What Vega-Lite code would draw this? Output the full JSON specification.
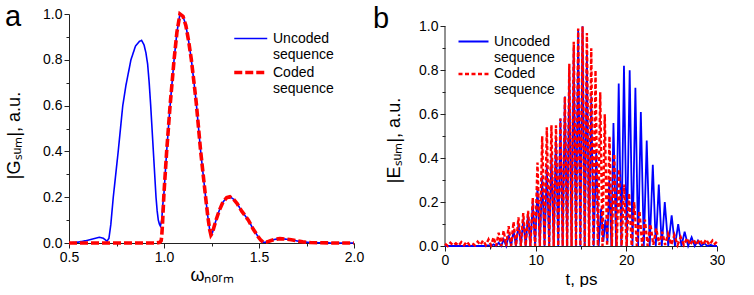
{
 "$schema": "https://vega.github.io/schema/vega-lite/v6.json",
 "background": "white",
 "padding": {"left": 5, "top": 3, "right": 0, "bottom": 0},
 "spacing": 9,
 "resolve": {"scale": {"color": "independent", "strokeDash": "independent", "strokeWidth": "independent"}, "legend": {"color": "independent", "strokeDash": "independent", "strokeWidth": "independent"}},
 "config": {
  "view": {"stroke": null},
  "font": "Liberation Sans",
  "axis": {"domainColor": "#222", "tickColor": "#222", "labelColor": "#000", "titleColor": "#000", "labelFontSize": 14, "titleFontWeight": "normal", "grid": false, "labelFont": "Liberation Sans", "titleFont": "Liberation Sans", "labelOverlap": false, "labelPadding": 2}
 },
 "hconcat": [
  {
   "width": 285, "height": 229,
   "data": {"values": [
    {"w":0.5,"g":0,"s":"U"},{"w":0.55,"g":0.004,"s":"U"},{"w":0.6,"g":0.012,"s":"U"},{"w":0.64,"g":0.021,"s":"U"},{"w":0.66,"g":0.025,"s":"U"},{"w":0.68,"g":0.021,"s":"U"},{"w":0.7,"g":0.008,"s":"U"},{"w":0.71,"g":0.02,"s":"U"},{"w":0.72,"g":0.08,"s":"U"},{"w":0.733,"g":0.2,"s":"U"},{"w":0.746,"g":0.3,"s":"U"},{"w":0.759,"g":0.4,"s":"U"},{"w":0.771,"g":0.5,"s":"U"},{"w":0.783,"g":0.6,"s":"U"},{"w":0.8,"g":0.69,"s":"U"},{"w":0.826,"g":0.8,"s":"U"},{"w":0.85,"g":0.86,"s":"U"},{"w":0.87,"g":0.88,"s":"U"},{"w":0.882,"g":0.885,"s":"U"},{"w":0.895,"g":0.865,"s":"U"},{"w":0.905,"g":0.83,"s":"U"},{"w":0.914,"g":0.78,"s":"U"},{"w":0.922,"g":0.7,"s":"U"},{"w":0.93,"g":0.6,"s":"U"},{"w":0.937,"g":0.5,"s":"U"},{"w":0.944,"g":0.4,"s":"U"},{"w":0.951,"g":0.3,"s":"U"},{"w":0.958,"g":0.2,"s":"U"},{"w":0.964,"g":0.14,"s":"U"},{"w":0.97,"g":0.1,"s":"U"},{"w":0.976,"g":0.082,"s":"U"},{"w":0.981,"g":0.074,"s":"U"},{"w":0.988,"g":0.1,"s":"U"},{"w":0.994,"g":0.17,"s":"U"},{"w":1.0,"g":0.22,"s":"U"},
    {"w":1.014,"g":0.4,"s":"U"},{"w":1.032,"g":0.6,"s":"U"},{"w":1.053,"g":0.8,"s":"U"},{"w":1.068,"g":0.92,"s":"U"},{"w":1.084,"g":1.0,"s":"U"},{"w":1.1,"g":0.99,"s":"U"},{"w":1.115,"g":0.95,"s":"U"},{"w":1.13,"g":0.88,"s":"U"},{"w":1.144,"g":0.8,"s":"U"},{"w":1.158,"g":0.7,"s":"U"},{"w":1.17,"g":0.61,"s":"U"},{"w":1.182,"g":0.5,"s":"U"},{"w":1.193,"g":0.4,"s":"U"},{"w":1.206,"g":0.3,"s":"U"},{"w":1.219,"g":0.2,"s":"U"},{"w":1.23,"g":0.12,"s":"U"},{"w":1.24,"g":0.06,"s":"U"},{"w":1.247,"g":0.035,"s":"U"},{"w":1.255,"g":0.045,"s":"U"},{"w":1.265,"g":0.075,"s":"U"},{"w":1.274,"g":0.1,"s":"U"},{"w":1.29,"g":0.14,"s":"U"},{"w":1.31,"g":0.178,"s":"U"},{"w":1.33,"g":0.198,"s":"U"},{"w":1.347,"g":0.202,"s":"U"},{"w":1.365,"g":0.192,"s":"U"},{"w":1.385,"g":0.172,"s":"U"},{"w":1.41,"g":0.138,"s":"U"},{"w":1.444,"g":0.1,"s":"U"},{"w":1.47,"g":0.06,"s":"U"},{"w":1.495,"g":0.028,"s":"U"},{"w":1.51,"g":0.012,"s":"U"},{"w":1.523,"g":0.003,"s":"U"},{"w":1.54,"g":0.004,"s":"U"},{"w":1.56,"g":0.01,"s":"U"},{"w":1.585,"g":0.016,"s":"U"},{"w":1.61,"g":0.019,"s":"U"},{"w":1.64,"g":0.017,"s":"U"},{"w":1.67,"g":0.014,"s":"U"},{"w":1.7,"g":0.009,"s":"U"},{"w":1.73,"g":0.005,"s":"U"},{"w":1.77,"g":0.002,"s":"U"},{"w":1.82,"g":0.001,"s":"U"},{"w":1.9,"g":0,"s":"U"},{"w":2.0,"g":0,"s":"U"},
    {"w":0.5,"g":0,"s":"C"},{"w":0.6,"g":0,"s":"C"},{"w":0.7,"g":0,"s":"C"},{"w":0.8,"g":0,"s":"C"},{"w":0.9,"g":0,"s":"C"},{"w":0.96,"g":0,"s":"C"},{"w":0.978,"g":0.003,"s":"C"},{"w":0.985,"g":0.01,"s":"C"},{"w":0.988,"g":0.03,"s":"C"},{"w":0.992,"g":0.08,"s":"C"},{"w":1.0,"g":0.22,"s":"C"},
    {"w":1.014,"g":0.4,"s":"C"},{"w":1.032,"g":0.6,"s":"C"},{"w":1.053,"g":0.8,"s":"C"},{"w":1.068,"g":0.92,"s":"C"},{"w":1.084,"g":1.0,"s":"C"},{"w":1.1,"g":0.99,"s":"C"},{"w":1.115,"g":0.95,"s":"C"},{"w":1.13,"g":0.88,"s":"C"},{"w":1.144,"g":0.8,"s":"C"},{"w":1.158,"g":0.7,"s":"C"},{"w":1.17,"g":0.61,"s":"C"},{"w":1.182,"g":0.5,"s":"C"},{"w":1.193,"g":0.4,"s":"C"},{"w":1.206,"g":0.3,"s":"C"},{"w":1.219,"g":0.2,"s":"C"},{"w":1.23,"g":0.12,"s":"C"},{"w":1.24,"g":0.06,"s":"C"},{"w":1.247,"g":0.035,"s":"C"},{"w":1.255,"g":0.045,"s":"C"},{"w":1.265,"g":0.075,"s":"C"},{"w":1.274,"g":0.1,"s":"C"},{"w":1.29,"g":0.14,"s":"C"},{"w":1.31,"g":0.178,"s":"C"},{"w":1.33,"g":0.198,"s":"C"},{"w":1.347,"g":0.202,"s":"C"},{"w":1.365,"g":0.192,"s":"C"},{"w":1.385,"g":0.172,"s":"C"},{"w":1.41,"g":0.138,"s":"C"},{"w":1.444,"g":0.1,"s":"C"},{"w":1.47,"g":0.06,"s":"C"},{"w":1.495,"g":0.028,"s":"C"},{"w":1.51,"g":0.012,"s":"C"},{"w":1.523,"g":0.003,"s":"C"},{"w":1.54,"g":0.004,"s":"C"},{"w":1.56,"g":0.01,"s":"C"},{"w":1.585,"g":0.016,"s":"C"},{"w":1.61,"g":0.019,"s":"C"},{"w":1.64,"g":0.017,"s":"C"},{"w":1.67,"g":0.014,"s":"C"},{"w":1.7,"g":0.009,"s":"C"},{"w":1.73,"g":0.005,"s":"C"},{"w":1.77,"g":0.002,"s":"C"},{"w":1.82,"g":0.001,"s":"C"},{"w":1.9,"g":0,"s":"C"},{"w":2.0,"g":0,"s":"C"}
   ]},
   "encoding": {
    "x": {"field": "w", "type": "quantitative", "scale": {"domain": [0.5, 2.0], "nice": false, "zero": false},
     "axis": {"values": [0.5,0.75,1,1.25,1.5,1.75,2], "labelFlush": false,
      "labelExpr": "round(datum.value*100) % 50 == 0 ? format(datum.value, '.1f') : ''",
      "tickSize": {"condition": {"test": "round(datum.value*100) % 50 != 0", "value": 3}, "value": 5},
      "title": "ωₙₒᵣₘ", "titleFontSize": 18, "titlePadding": 2}},
    "y": {"field": "g", "type": "quantitative", "scale": {"domain": [0, 1], "nice": false},
     "axis": {"values": [0,0.1,0.2,0.3,0.4,0.5,0.6,0.7,0.8,0.9,1.0],
      "labelExpr": "round(datum.value*10) % 2 == 0 ? format(datum.value, '.1f') : ''",
      "tickSize": {"condition": {"test": "round(datum.value*10) % 2 != 0", "value": 3}, "value": 5},
      "title": "|Gₛᵤₘ|, a.u.", "titleFontSize": 18, "titlePadding": 19, "titleY": 121}}
   },
   "layer": [
    {"transform": [{"filter": "datum.s == 'U' && datum.w == 0.5"}], "mark": {"type": "text", "fontSize": 29, "font": "Liberation Sans", "align": "left", "baseline": "alphabetic", "dx": -64, "dy": 12, "color": "#000"},
     "encoding": {"y": {"datum": 1}, "text": {"value": "a"}}},
    {"transform": [{"filter": "datum.s == 'U'"}], "mark": {"type": "line"},
     "encoding": {
      "color": {"field": "s", "type": "nominal", "scale": {"domain": ["U","C"], "range": ["#0000ff","#ff0000"]},
       "legend": {"title": null, "orient": "none", "legendX": 163, "legendY": 15, "labelExpr": "datum.label == 'U' ? ['Uncoded','sequence'] : ['Coded','sequence']", "labelFontSize": 14, "labelColor": "#000", "symbolType": "M-1,0H3", "symbolSize": 272, "labelOffset": 20, "rowPadding": 0, "padding": 0, "labelLimit": 0}},
      "strokeDash": {"field": "s", "type": "nominal", "scale": {"domain": ["U","C"], "range": [[1,0],[8,3]]}},
      "strokeWidth": {"field": "s", "type": "nominal", "scale": {"domain": ["U","C"], "range": [1.6, 3.6]}}}},
    {"transform": [{"filter": "datum.s == 'C'"}], "mark": {"type": "line"},
     "encoding": {
      "color": {"field": "s", "type": "nominal", "scale": {"domain": ["U","C"], "range": ["#0000ff","#ff0000"]}},
      "strokeDash": {"field": "s", "type": "nominal", "scale": {"domain": ["U","C"], "range": [[1,0],[8,3]]}},
      "strokeWidth": {"field": "s", "type": "nominal", "scale": {"domain": ["U","C"], "range": [1.6, 3.6]}}}}
   ]
  },
  {
   "width": 272, "height": 232,
   "data": {"values": [
    {"t":0,"e":0,"s":"U"},{"t":4.5,"e":0,"s":"U"},{"t":4.8,"e":0.003,"s":"U"},{"t":5.08,"e":0,"s":"U"},{"t":5.36,"e":0.008,"s":"U"},{"t":5.64,"e":0,"s":"U"},{"t":5.92,"e":0.015,"s":"U"},{"t":6.2,"e":0,"s":"U"},{"t":6.47,"e":0.03,"s":"U"},{"t":6.75,"e":0,"s":"U"},{"t":7.02,"e":0.05,"s":"U"},{"t":7.29,"e":0,"s":"U"},{"t":7.56,"e":0.07,"s":"U"},{"t":7.83,"e":0,"s":"U"},{"t":8.1,"e":0.1,"s":"U"},{"t":8.37,"e":0,"s":"U"},{"t":8.63,"e":0.12,"s":"U"},{"t":8.9,"e":0,"s":"U"},{"t":9.16,"e":0.15,"s":"U"},{"t":9.42,"e":0,"s":"U"},{"t":9.68,"e":0.2,"s":"U"},{"t":9.94,"e":0,"s":"U"},{"t":10.2,"e":0.27,"s":"U"},{"t":10.46,"e":0,"s":"U"},{"t":10.72,"e":0.32,"s":"U"},{"t":10.98,"e":0,"s":"U"},{"t":11.23,"e":0.37,"s":"U"},{"t":11.49,"e":0,"s":"U"},{"t":11.74,"e":0.42,"s":"U"},{"t":11.99,"e":0,"s":"U"},{"t":12.24,"e":0.5,"s":"U"},{"t":12.49,"e":0,"s":"U"},{"t":12.73,"e":0.58,"s":"U"},{"t":12.98,"e":0,"s":"U"},{"t":13.22,"e":0.68,"s":"U"},{"t":13.47,"e":0,"s":"U"},{"t":13.71,"e":0.8,"s":"U"},{"t":13.96,"e":0,"s":"U"},{"t":14.2,"e":0.9,"s":"U"},{"t":14.45,"e":0,"s":"U"},{"t":14.69,"e":0.98,"s":"U"},{"t":14.93,"e":0,"s":"U"},{"t":15.17,"e":1.0,"s":"U"},{"t":15.41,"e":0,"s":"U"},{"t":15.65,"e":0.88,"s":"U"},{"t":15.89,"e":0,"s":"U"},{"t":16.13,"e":0.68,"s":"U"},{"t":16.4,"e":0,"s":"U"},{"t":16.68,"e":0.43,"s":"U"},{"t":16.95,"e":0,"s":"U"},{"t":17.22,"e":0.17,"s":"U"},{"t":17.46,"e":0.02,"s":"U"},{"t":17.7,"e":0.12,"s":"U"},{"t":17.91,"e":0.02,"s":"U"},{"t":18.12,"e":0.3,"s":"U"},{"t":18.35,"e":0,"s":"U"},{"t":18.58,"e":0.56,"s":"U"},{"t":18.87,"e":0,"s":"U"},{"t":19.16,"e":0.74,"s":"U"},{"t":19.45,"e":0,"s":"U"},{"t":19.74,"e":0.82,"s":"U"},{"t":20.05,"e":0,"s":"U"},{"t":20.37,"e":0.8,"s":"U"},{"t":20.68,"e":0,"s":"U"},{"t":21.0,"e":0.72,"s":"U"},{"t":21.3,"e":0,"s":"U"},{"t":21.6,"e":0.61,"s":"U"},{"t":21.93,"e":0,"s":"U"},{"t":22.25,"e":0.48,"s":"U"},{"t":22.58,"e":0,"s":"U"},{"t":22.92,"e":0.37,"s":"U"},{"t":23.25,"e":0,"s":"U"},{"t":23.58,"e":0.28,"s":"U"},{"t":23.91,"e":0,"s":"U"},{"t":24.24,"e":0.2,"s":"U"},{"t":24.62,"e":0,"s":"U"},{"t":25.0,"e":0.14,"s":"U"},{"t":25.36,"e":0,"s":"U"},{"t":25.72,"e":0.1,"s":"U"},{"t":26.08,"e":0,"s":"U"},{"t":26.43,"e":0.065,"s":"U"},{"t":26.82,"e":0,"s":"U"},{"t":27.2,"e":0.04,"s":"U"},{"t":27.55,"e":0,"s":"U"},{"t":27.9,"e":0.025,"s":"U"},{"t":28.25,"e":0,"s":"U"},{"t":28.6,"e":0.012,"s":"U"},{"t":28.95,"e":0,"s":"U"},{"t":29.3,"e":0.005,"s":"U"},{"t":29.65,"e":0,"s":"U"},{"t":30,"e":0,"s":"U"},
    {"t":0,"e":0.01,"s":"C"},{"t":0.3,"e":0,"s":"C"},{"t":0.6,"e":0.015,"s":"C"},{"t":0.9,"e":0.003,"s":"C"},{"t":1.2,"e":0.012,"s":"C"},{"t":1.5,"e":0.002,"s":"C"},{"t":1.8,"e":0.018,"s":"C"},{"t":2.1,"e":0.004,"s":"C"},{"t":2.4,"e":0.02,"s":"C"},{"t":2.7,"e":0.005,"s":"C"},{"t":3.0,"e":0.012,"s":"C"},{"t":3.3,"e":0.003,"s":"C"},{"t":3.6,"e":0.02,"s":"C"},{"t":3.9,"e":0.005,"s":"C"},{"t":4.2,"e":0.025,"s":"C"},{"t":4.5,"e":0.004,"s":"C"},{"t":4.8,"e":0.03,"s":"C"},{"t":5.08,"e":0.003,"s":"C"},{"t":5.36,"e":0.04,"s":"C"},{"t":5.64,"e":0,"s":"C"},{"t":5.92,"e":0.06,"s":"C"},{"t":6.2,"e":0,"s":"C"},{"t":6.47,"e":0.07,"s":"C"},{"t":6.75,"e":0,"s":"C"},{"t":7.02,"e":0.09,"s":"C"},{"t":7.29,"e":0,"s":"C"},{"t":7.56,"e":0.11,"s":"C"},{"t":7.83,"e":0,"s":"C"},{"t":8.1,"e":0.13,"s":"C"},{"t":8.37,"e":0,"s":"C"},{"t":8.63,"e":0.15,"s":"C"},{"t":8.9,"e":0,"s":"C"},{"t":9.16,"e":0.16,"s":"C"},{"t":9.42,"e":0,"s":"C"},{"t":9.68,"e":0.22,"s":"C"},{"t":9.94,"e":0,"s":"C"},{"t":10.2,"e":0.38,"s":"C"},{"t":10.46,"e":0,"s":"C"},{"t":10.72,"e":0.5,"s":"C"},{"t":10.98,"e":0,"s":"C"},{"t":11.23,"e":0.54,"s":"C"},{"t":11.49,"e":0,"s":"C"},{"t":11.74,"e":0.55,"s":"C"},{"t":11.99,"e":0,"s":"C"},{"t":12.24,"e":0.55,"s":"C"},{"t":12.49,"e":0,"s":"C"},{"t":12.73,"e":0.58,"s":"C"},{"t":12.98,"e":0,"s":"C"},{"t":13.22,"e":0.68,"s":"C"},{"t":13.47,"e":0,"s":"C"},{"t":13.71,"e":0.83,"s":"C"},{"t":13.96,"e":0,"s":"C"},{"t":14.2,"e":0.93,"s":"C"},{"t":14.45,"e":0,"s":"C"},{"t":14.69,"e":0.99,"s":"C"},{"t":14.93,"e":0,"s":"C"},{"t":15.17,"e":1.0,"s":"C"},{"t":15.41,"e":0,"s":"C"},{"t":15.65,"e":0.97,"s":"C"},{"t":15.89,"e":0,"s":"C"},{"t":16.13,"e":0.9,"s":"C"},{"t":16.37,"e":0,"s":"C"},{"t":16.6,"e":0.8,"s":"C"},{"t":16.86,"e":0,"s":"C"},{"t":17.12,"e":0.7,"s":"C"},{"t":17.37,"e":0,"s":"C"},{"t":17.62,"e":0.6,"s":"C"},{"t":17.88,"e":0,"s":"C"},{"t":18.14,"e":0.5,"s":"C"},{"t":18.4,"e":0,"s":"C"},{"t":18.66,"e":0.42,"s":"C"},{"t":18.93,"e":0,"s":"C"},{"t":19.2,"e":0.35,"s":"C"},{"t":19.48,"e":0,"s":"C"},{"t":19.75,"e":0.28,"s":"C"},{"t":20.03,"e":0,"s":"C"},{"t":20.3,"e":0.24,"s":"C"},{"t":20.59,"e":0,"s":"C"},{"t":20.87,"e":0.2,"s":"C"},{"t":21.16,"e":0,"s":"C"},{"t":21.45,"e":0.16,"s":"C"},{"t":21.75,"e":0,"s":"C"},{"t":22.05,"e":0.12,"s":"C"},{"t":22.35,"e":0,"s":"C"},{"t":22.65,"e":0.1,"s":"C"},{"t":22.98,"e":0.005,"s":"C"},{"t":23.3,"e":0.08,"s":"C"},{"t":23.63,"e":0.005,"s":"C"},{"t":23.95,"e":0.065,"s":"C"},{"t":24.28,"e":0.005,"s":"C"},{"t":24.6,"e":0.055,"s":"C"},{"t":24.95,"e":0.005,"s":"C"},{"t":25.3,"e":0.05,"s":"C"},{"t":25.65,"e":0.005,"s":"C"},{"t":26.0,"e":0.04,"s":"C"},{"t":26.35,"e":0.005,"s":"C"},{"t":26.7,"e":0.035,"s":"C"},{"t":27.05,"e":0.005,"s":"C"},{"t":27.4,"e":0.03,"s":"C"},{"t":27.75,"e":0.005,"s":"C"},{"t":28.1,"e":0.03,"s":"C"},{"t":28.45,"e":0.005,"s":"C"},{"t":28.8,"e":0.03,"s":"C"},{"t":29.15,"e":0.005,"s":"C"},{"t":29.5,"e":0.025,"s":"C"},{"t":29.75,"e":0.01,"s":"C"},{"t":30,"e":0.02,"s":"C"}
   ]},
   "encoding": {
    "x": {"field": "t", "type": "quantitative", "scale": {"domain": [0, 30], "nice": false},
     "axis": {"values": [0,5,10,15,20,25,30], "labelFlush": false,
      "labelExpr": "datum.value % 10 == 0 ? format(datum.value, 'd') : ''",
      "tickSize": {"condition": {"test": "datum.value % 10 != 0", "value": 3}, "value": 5},
      "title": "t, ps", "titleFontSize": 17, "titlePadding": 4}},
    "y": {"field": "e", "type": "quantitative", "scale": {"domain": [0, 1.0561], "nice": false},
     "axis": {"values": [0,0.1,0.2,0.3,0.4,0.5,0.6,0.7,0.8,0.9,1.0], "domain": false,
      "labelExpr": "round(datum.value*10) % 2 == 0 ? format(datum.value, '.1f') : ''",
      "tickSize": {"condition": {"test": "round(datum.value*10) % 2 != 0", "value": 3}, "value": 5},
      "title": "|Eₛᵤₘ|, a.u.", "titleFontSize": 18, "titlePadding": 15, "titleY": 126}}
   },
   "layer": [
    {"transform": [{"filter": "datum.s == 'U' && datum.t == 0"}], "mark": {"type": "rule", "color": "#222", "strokeWidth": 1},
     "encoding": {"y": {"datum": 0}, "y2": {"datum": 1}}},
    {"transform": [{"filter": "datum.s == 'U' && datum.t == 0"}], "mark": {"type": "text", "fontSize": 29, "font": "Liberation Sans", "align": "left", "baseline": "alphabetic", "dx": -72, "dy": 2, "color": "#000"},
     "encoding": {"y": {"datum": 1}, "text": {"value": "b"}}},
    {"transform": [{"filter": "datum.s == 'U'"}], "mark": {"type": "line"},
     "encoding": {
      "color": {"field": "s", "type": "nominal", "scale": {"domain": ["U","C"], "range": ["#0000ff","#ff0000"]},
       "legend": {"title": null, "orient": "none", "legendX": 12, "legendY": 19, "labelExpr": "datum.label == 'U' ? ['Uncoded','sequence'] : ['Coded','sequence']", "labelFontSize": 14, "labelColor": "#000", "symbolType": "M-1,0H3", "symbolSize": 225, "labelOffset": 19, "rowPadding": 0, "padding": 0, "labelLimit": 0}},
      "strokeDash": {"field": "s", "type": "nominal", "scale": {"domain": ["U","C"], "range": [[1,0],[4,2.5]]}},
      "strokeWidth": {"field": "s", "type": "nominal", "scale": {"domain": ["U","C"], "range": [1.8, 2.4]}}}},
    {"transform": [{"filter": "datum.s == 'C'"}], "mark": {"type": "line"},
     "encoding": {
      "color": {"field": "s", "type": "nominal", "scale": {"domain": ["U","C"], "range": ["#0000ff","#ff0000"]}},
      "strokeDash": {"field": "s", "type": "nominal", "scale": {"domain": ["U","C"], "range": [[1,0],[4,2.5]]}},
      "strokeWidth": {"field": "s", "type": "nominal", "scale": {"domain": ["U","C"], "range": [1.8, 2.4]}}}}
   ]
  }
 ]
}
